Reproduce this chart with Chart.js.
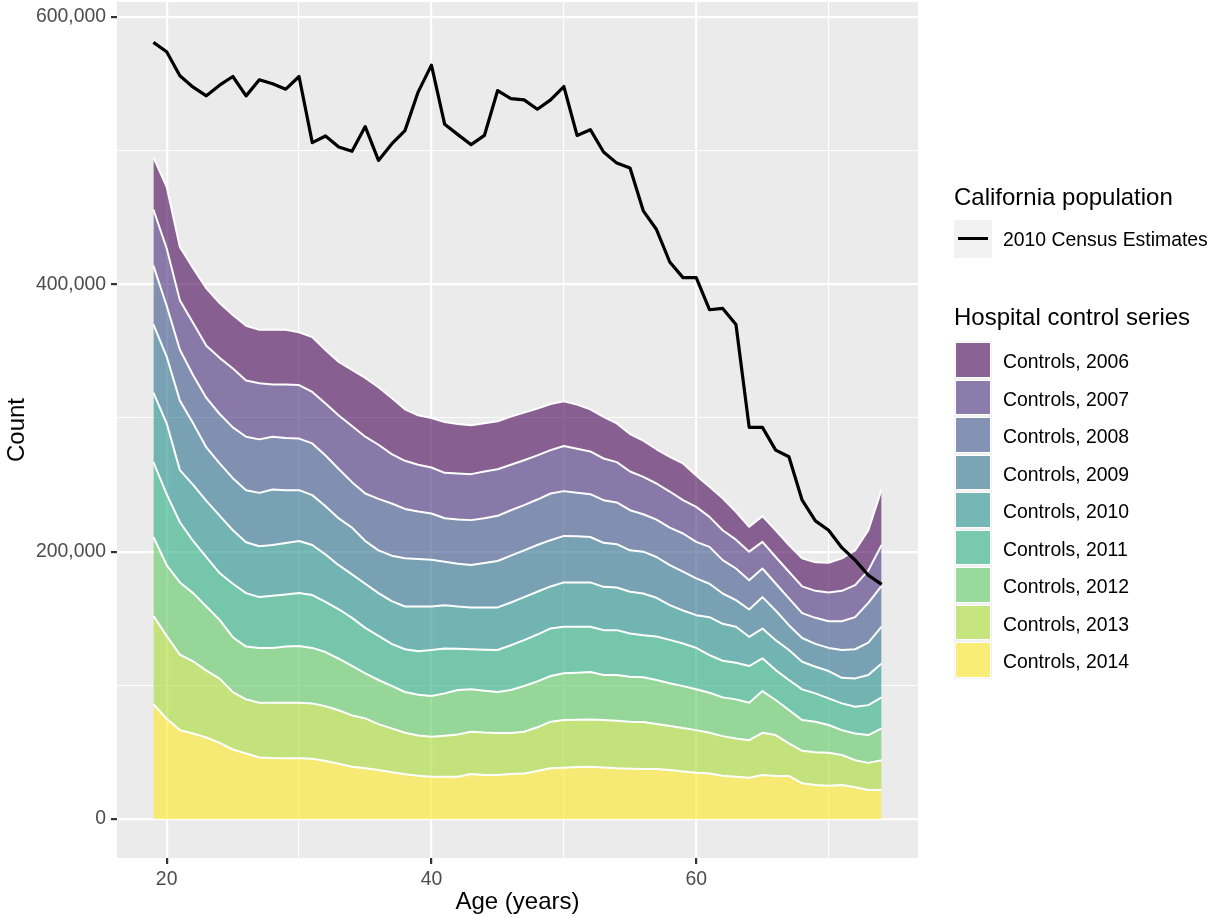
<!DOCTYPE html>
<html>
<head>
<meta charset="utf-8">
<script src="https://cdn.jsdelivr.net/npm/chart.js@4.4.0/dist/chart.umd.min.js"></script>
<style>
  html, body { margin: 0; padding: 0; background: #ffffff; }
  #wrap { position: relative; width: 1209px; height: 918px; font-family: "Liberation Sans", Arial, Helvetica, sans-serif; }
  #chart { position: absolute; left: 0; top: 0; }
  .legend-title { position: absolute; left: 954px; font-size: 24px; line-height: 28px; color: #000; white-space: nowrap; }
  .legend-label { position: absolute; left: 1003px; font-size: 19.4px; line-height: 22px; color: #000; white-space: nowrap; }
  .legend-key { position: absolute; left: 954px; width: 37.5px; height: 37.5px; background: #f2f2f2; }
  .legend-key .swatch { position: absolute; left: 2px; top: 2px; width: 33.5px; height: 33.5px; box-shadow: 0 0 0 1px #ffffff; }
  .legend-key .stroke { position: absolute; left: 4px; top: 17.2px; width: 29.5px; height: 3.2px; background: #000; }
</style>
</head>
<body>
<div id="wrap">
  <canvas id="chart" width="1209" height="918"></canvas>
  <div id="legend"></div>
</div>
<script>
// Idades (anos) e contagens lidas por idade
const ages = [19, 20, 21, 22, 23, 24, 25, 26, 27, 28, 29, 30, 31, 32, 33, 34, 35, 36, 37, 38,
  39, 40, 41, 42, 43, 44, 45, 46, 47, 48, 49, 50, 51, 52, 53, 54, 55, 56, 57, 58,
  59, 60, 61, 62, 63, 64, 65, 66, 67, 68, 69, 70, 71, 72, 73, 74];

// Estimativas do Censo 2010 para a população da Califórnia
const census2010 = [581000, 574000, 556000, 547500, 541000, 549000, 555500, 541000, 553000, 550000,
  546000, 555500, 506000, 511000, 502700, 499500, 518000, 492700, 505000, 515000,
  544000, 564000, 519700, 512000, 504500, 511400, 545000, 539000, 538000, 531000,
  538000, 548000, 511400, 515700, 499000, 490700, 487000, 455000, 441000, 416700,
  405000, 405000, 381000, 382000, 370000, 293000, 293000, 276000, 271000, 238500,
  223000, 216000, 203000, 193700, 182400, 175500];

// Séries de controles hospitalares, uma por ano
const controls2006 = [39000, 46000, 40000, 41000, 43000, 41000, 40000, 41000, 40000, 41000,
  41000, 39500, 41000, 40000, 40000, 42000, 44000, 43000, 42000, 38500,
  37000, 37000, 38000, 37000, 36600, 36000, 35900, 36000, 35600, 35000,
  34500, 33500, 33000, 31500, 31100, 29000, 28000, 27000, 25600, 26000,
  27500, 23500, 22500, 24000, 20800, 18600, 19300, 20000, 20000, 21000,
  21300, 22200, 24300, 26000, 30000, 41500];
const controls2007 = [42000, 43000, 37000, 39000, 39000, 42000, 44000, 42000, 42000, 39000,
  40000, 40000, 38500, 39000, 40000, 42000, 42500, 40500, 37000, 36000,
  35000, 34400, 34000, 34500, 34400, 35000, 34900, 34000, 33600, 33000,
  32500, 33700, 33000, 32000, 31200, 30200, 29000, 28000, 27000, 27000,
  24900, 26200, 22400, 22300, 21600, 21300, 19900, 19800, 20000, 20000,
  20200, 21500, 22700, 24000, 24300, 30600];
const controls2008 = [44000, 38000, 38000, 36000, 37000, 37000, 38000, 40000, 40000, 39500,
  39000, 38600, 38700, 38000, 37000, 34000, 35500, 38500, 39000, 37000,
  35500, 34600, 32600, 33000, 33600, 33500, 33800, 34000, 33800, 34000,
  34900, 33500, 32500, 32000, 31900, 31200, 30000, 28000, 28000, 28000,
  28600, 27300, 27600, 25000, 23700, 22000, 21400, 20200, 20000, 18600,
  19500, 20000, 21600, 24000, 29700, 30400];
const controls2009 = [51000, 50000, 52000, 46000, 40000, 39000, 39000, 39000, 40000, 41500,
  39500, 38000, 37300, 36000, 35000, 35000, 32000, 32000, 34000, 36000,
  35500, 35000, 32400, 32000, 31700, 33200, 34700, 35000, 35000, 35000,
  34600, 34800, 34500, 34000, 32900, 32400, 31000, 31300, 30500, 30000,
  29000, 27500, 25000, 22700, 19900, 20400, 23500, 22200, 18600, 17800,
  17100, 17300, 20800, 21800, 24300, 27600];
const controls2010 = [52000, 53000, 39000, 42000, 42000, 43000, 40000, 38000, 38000, 38000,
  38500, 39000, 37500, 35500, 33000, 32500, 33000, 32000, 32000, 32000,
  33500, 32600, 32400, 31700, 31300, 31600, 31900, 32000, 32200, 32000,
  31400, 33200, 33200, 33200, 32400, 31900, 31200, 31200, 29000, 26000,
  24700, 24500, 28400, 27600, 26900, 21900, 22300, 22400, 22400, 20600,
  19900, 20500, 19100, 21200, 22500, 25400];
const controls2011 = [56000, 53000, 45000, 39000, 37000, 35000, 40000, 40000, 38000, 39000,
  39000, 39600, 39500, 37500, 37000, 36000, 34000, 33000, 31400, 32000,
  32500, 34400, 33600, 30800, 30000, 30700, 31400, 33500, 34300, 35000,
  35600, 34800, 34300, 33800, 33600, 33600, 32400, 31500, 32500, 32500,
  31900, 31000, 28100, 27400, 27400, 27400, 24500, 22400, 22500, 23000,
  21200, 19900, 20000, 20000, 22400, 23200];
const controls2012 = [59000, 53000, 54000, 51000, 48000, 44000, 41000, 39500, 41000, 41000,
  42000, 42400, 41500, 40500, 38500, 37000, 33700, 33000, 31800, 30500,
  30600, 30500, 31700, 33200, 31700, 31300, 30600, 32100, 34200, 34400,
  34200, 35000, 35200, 35500, 33700, 34200, 33600, 33500, 33000, 32000,
  31400, 30500, 30000, 29000, 29200, 28000, 31200, 26200, 24900, 23000,
  22900, 20700, 18600, 20000, 20800, 23800];
const controls2013 = [66000, 62000, 56500, 54000, 50000, 48000, 43000, 40500, 41000, 41400,
  41500, 41600, 41500, 41000, 40000, 38400, 37300, 34400, 32800, 31100,
  30000, 29900, 30700, 31700, 31700, 31700, 31500, 30800, 31200, 32700,
  34900, 35600, 35400, 35400, 35500, 35600, 35200, 35000, 33600, 32900,
  32500, 31900, 30400, 29600, 28700, 28100, 31600, 30600, 24400, 24300,
  24500, 24700, 22500, 20300, 20300, 22300];
const controls2014 = [86000, 75000, 66500, 64000, 61000, 57000, 52000, 49000, 46000, 45600,
  45500, 45400, 45000, 43400, 41400, 39100, 38000, 36600, 35000, 33400,
  32400, 31600, 31600, 31600, 33600, 33000, 32900, 33600, 34100, 35900,
  37900, 38400, 38900, 39100, 38500, 37900, 37600, 37500, 37400, 36600,
  35500, 34600, 34100, 32400, 31600, 30900, 32900, 32200, 32200, 26700,
  25400, 24900, 25400, 23700, 21700, 21700];

// Rótulos das séries (de cima para baixo na pilha) e marcações dos eixos
const seriesLabels = ['Controls, 2006', 'Controls, 2007', 'Controls, 2008', 'Controls, 2009',
  'Controls, 2010', 'Controls, 2011', 'Controls, 2012', 'Controls, 2013', 'Controls, 2014'];
const seriesValues = [controls2006, controls2007, controls2008, controls2009, controls2010,
  controls2011, controls2012, controls2013, controls2014];
const xTicks = [20, 30, 40, 50, 60, 70];
const yTicks = [0, 100000, 200000, 300000, 400000, 500000, 600000];

// Paleta viridis com transparência sobre o fundo cinza
const viridis = [[68, 1, 84], [71, 45, 123], [59, 82, 139], [44, 114, 142], [33, 144, 140],
  [39, 173, 129], [93, 200, 99], [170, 220, 50], [253, 231, 37]];
const fillAlpha = 0.6;
const rgba = c => `rgba(${c[0]}, ${c[1]}, ${c[2]}, ${fillAlpha})`;

Chart.defaults.font.family = '"Liberation Sans", Arial, Helvetica, sans-serif';

// Fundo cinza do painel
const panelBackground = {
  id: 'panelBackground',
  beforeDraw(chart) {
    const { ctx, chartArea: a } = chart;
    ctx.save();
    ctx.fillStyle = '#ebebeb';
    ctx.fillRect(a.left, a.top, a.right - a.left, a.bottom - a.top);
    ctx.restore();
  }
};

const toPoints = values => values.map((v, i) => ({ x: ages[i], y: v }));

// Áreas empilhadas: a primeira fica embaixo (2014), a última no topo (2006)
const areaDatasets = [];
for (let k = seriesLabels.length - 1; k >= 0; k--) {
  areaDatasets.push({
    label: seriesLabels[k],
    data: toPoints(seriesValues[k]),
    stack: 'controls',
    fill: areaDatasets.length === 0 ? 'origin' : '-1',
    backgroundColor: rgba(viridis[k]),
    borderColor: '#ffffff',
    borderWidth: 2,
    order: 1
  });
}

const censusDataset = {
  label: '2010 Census Estimates',
  data: toPoints(census2010),
  stack: 'census',
  fill: false,
  borderColor: '#000000',
  borderWidth: 3.2,
  order: 0
};

const isMajor = (v, step) => Math.abs(v % step) < 1e-6;

new Chart(document.getElementById('chart'), {
  type: 'line',
  data: { datasets: [...areaDatasets, censusDataset] },
  options: {
    responsive: false,
    animation: false,
    devicePixelRatio: 1,
    layout: { padding: { left: 0, top: 2, right: 291, bottom: 0 } },
    elements: {
      point: { radius: 0 },
      line: { tension: 0, borderJoinStyle: 'round', borderCapStyle: 'butt' }
    },
    plugins: {
      legend: { display: false },
      tooltip: { enabled: false }
    },
    scales: {
      x: {
        type: 'linear',
        min: 16.25,
        max: 76.75,
        afterBuildTicks(axis) { axis.ticks = xTicks.map(v => ({ value: v })); },
        afterFit(axis) { axis.height = 60; axis.paddingLeft = 0; axis.paddingRight = 0; },
        border: { display: false },
        grid: {
          color: '#ffffff',
          lineWidth: c => (c.tick && isMajor(c.tick.value, 20) ? 2.2 : 1.1),
          tickColor: c => (c.tick && isMajor(c.tick.value, 20) ? '#333333' : 'rgba(0,0,0,0)'),
          tickWidth: 2.2,
          tickLength: 6
        },
        ticks: {
          autoSkip: false,
          maxRotation: 0,
          padding: 4,
          color: '#4d4d4d',
          font: { size: 19.4 },
          callback: v => (isMajor(v, 20) ? String(v) : '')
        },
        title: {
          display: true,
          text: 'Age (years)',
          color: '#000000',
          font: { size: 24 },
          padding: { top: 0, bottom: 1 }
        }
      },
      y: {
        type: 'linear',
        stacked: true,
        min: -29175,
        max: 611225,
        afterBuildTicks(axis) { axis.ticks = yTicks.map(v => ({ value: v })); },
        afterFit(axis) { axis.width = 117; axis.paddingTop = 0; axis.paddingBottom = 0; },
        border: { display: false },
        grid: {
          color: '#ffffff',
          lineWidth: c => (c.tick && isMajor(c.tick.value, 200000) ? 2.2 : 1.1),
          tickColor: c => (c.tick && isMajor(c.tick.value, 200000) ? '#333333' : 'rgba(0,0,0,0)'),
          tickWidth: 2.2,
          tickLength: 6
        },
        ticks: {
          autoSkip: false,
          padding: 5,
          color: '#4d4d4d',
          font: { size: 19.4 },
          callback: v => (isMajor(v, 200000) ? v.toLocaleString('en-US') : '')
        },
        title: {
          display: true,
          text: 'Count',
          color: '#000000',
          font: { size: 24 },
          padding: { top: 3, bottom: 0 }
        }
      }
    }
  },
  plugins: [panelBackground]
});

// Legenda à direita do painel
const legend = document.getElementById('legend');
function addEl(cls, styles, text) {
  const el = document.createElement('div');
  el.className = cls;
  Object.assign(el.style, styles);
  if (text) el.textContent = text;
  legend.appendChild(el);
  return el;
}

addEl('legend-title', { top: '183px' }, 'California population');
const censusKey = addEl('legend-key', { top: '220px' });
censusKey.appendChild(Object.assign(document.createElement('div'), { className: 'stroke' }));
addEl('legend-label', { top: '228px' }, censusDataset.label);

addEl('legend-title', { top: '302.5px' }, 'Hospital control series');
seriesLabels.forEach((label, i) => {
  const key = addEl('legend-key', { top: (341 + 37.5 * i) + 'px' });
  const sw = document.createElement('div');
  sw.className = 'swatch';
  sw.style.background = rgba(viridis[i]);
  key.appendChild(sw);
  addEl('legend-label', { top: (350 + 37.5 * i) + 'px' }, label);
});
</script>
</body>
</html>
